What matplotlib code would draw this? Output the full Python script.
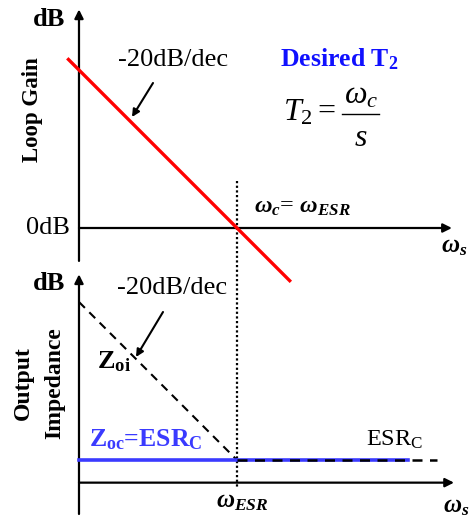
import matplotlib
matplotlib.use("Agg")
import matplotlib.pyplot as plt
from matplotlib.lines import Line2D
import numpy as np

plt.rcParams['font.family'] = ['Liberation Serif', 'DejaVu Serif']
plt.rcParams['mathtext.fontset'] = 'custom'
plt.rcParams['mathtext.rm'] = 'Liberation Serif'
plt.rcParams['mathtext.it'] = 'Liberation Serif:italic'
plt.rcParams['mathtext.bf'] = 'Liberation Serif:bold'
plt.rcParams['mathtext.bfit'] = 'Liberation Serif:bold:italic'

# ---- data (x = log10(w/w_c) in decades, y in dB) ----
loop_gain_dec = [-3.2, 1.0]
loop_gain_db = [64.0, -20.0]          # -20 dB/dec through 0 dB at w_c
zoi_dec = [-3.0, 0.0]
zoi_db = [60.0, 0.0]                  # -20 dB/dec down to ESR level
zoc_dec = [-3.0, 3.25]
zoc_db = [0.0, 0.0]                   # Zoc = ESR_C
esr_dec = [0.0, 3.8]
esr_db = [0.0, 0.0]
crossover_dec = 0.0

W, H = 477, 517
fig = plt.figure(figsize=(W / 100, H / 100), dpi=100)

PX_DEC = 52.67
X0 = 237
DB_PX = PX_DEC / 20.0

def xlim():
    return ((0 - X0) / PX_DEC, (W - X0) / PX_DEC)

# Top axes (loop gain), 0 dB at y_img=228
ax1 = fig.add_axes([0, 0, 1, 1])
ax1.set_xlim(*xlim())
ax1.set_ylim((228 - H) / DB_PX, 228 / DB_PX)
ax1.axis('off')
ax1.patch.set_alpha(0)

# Bottom axes (impedance), ESR level at y_img=460
ax2 = fig.add_axes([0, 0, 1, 1])
ax2.set_xlim(*xlim())
ax2.set_ylim((460 - H) / DB_PX, 460 / DB_PX)
ax2.axis('off')
ax2.patch.set_alpha(0)

ak = dict(arrowstyle='-|>', lw=1.6, color='black', mutation_scale=13, shrinkA=0, shrinkB=0)

# top axes lines
ax1.annotate('', xy=(-3.0, 83), xytext=(-3.0, -12.5), arrowprops=ak)
ax1.annotate('', xy=(4.08, 0), xytext=(-3.0, 0), arrowprops=ak)
# bottom axes lines
ax2.annotate('', xy=(-3.0, 70.5), xytext=(-3.0, -20.5), arrowprops=ak)
ax2.annotate('', xy=(4.12, -8.6), xytext=(-3.0, -8.6), arrowprops=ak)

# dotted crossover line across both panels (drawn in top axes units)
ax1.plot([crossover_dec, crossover_dec], [18.0, (228 - 488) / DB_PX],
         color='black', lw=1.6, ls=(0, (1, 1.1)), zorder=2)

# curves
ax1.plot(loop_gain_dec, loop_gain_db, color='#ff0000', lw=2.4, zorder=4)
ax2.plot(zoi_dec, zoi_db, color='black', lw=1.5, ls=(0, (4, 3)), zorder=3)
ax2.plot(zoc_dec, zoc_db, color='#3a3aff', lw=2.6, zorder=3)
ax2.plot(esr_dec, esr_db, color='black', lw=1.8, ls=(0, (4, 3)), zorder=4)

def ft(x, y, s, **kw):
    fig.text(x / W, 1 - y / H, s, **kw)

ft(49, 20, 'dB', fontsize=19, fontweight='bold', ha='center', va='center')
ft(33, 110, 'Loop Gain', fontsize=16.5, fontweight='bold', rotation=90, ha='center', va='center')
ft(173, 60, '-20dB/dec', fontsize=19, ha='center', va='center')
ft(48, 228, '0dB', fontsize=19, ha='center', va='center')
ft(339, 59, r'Desired T$_\mathbf{2}$', fontsize=18.5, fontweight='bold', color='#1010ff', ha='center', va='center')

# T2 = wc / s (built from pieces)
ft(309, 113, r'$T_2=$', fontsize=23, ha='center', va='center')
ft(361, 96, r'$\omega_c$', fontsize=23, ha='center', va='center')
ft(361, 138, r'$s$', fontsize=23, ha='center', va='center')
fig.add_artist(Line2D([342 / W, 379 / W], [1 - 114 / H, 1 - 114 / H], color='black', lw=1.0,
                      transform=fig.transFigure))

ft(302, 208, r'$\mathbfit{\omega_c}$= $\mathbfit{\omega_{ESR}}$', fontsize=17.5, ha='center', va='center')
ft(454, 247, r'$\mathbfit{\omega_s}$', fontsize=18, ha='center', va='center')

ft(49, 284, 'dB', fontsize=19, fontweight='bold', ha='center', va='center')
ft(172, 288, '-20dB/dec', fontsize=19, ha='center', va='center')
ft(23, 383, 'Output', fontsize=17, fontweight='bold', rotation=90, ha='center', va='center')
ft(55, 383, 'Impedance', fontsize=17, fontweight='bold', rotation=90, ha='center', va='center')
ft(114, 362, r'Z$_\mathbf{oi}$', fontsize=19, fontweight='bold', ha='center', va='center')
ft(146, 440, r'Z$_\mathbf{oc}$=ESR$_\mathbf{C}$', fontsize=18.5, fontweight='bold', color='#3a3aff', ha='center', va='center')
ft(395, 440, r'ESR$_\mathrm{C}$', fontsize=17.5, ha='center', va='center')
ft(242, 502, r'$\mathbfit{\omega_{ESR}}$', fontsize=18, ha='center', va='center')
ft(456, 507, r'$\mathbfit{\omega_s}$', fontsize=18, ha='center', va='center')

# pointer arrows
pa = dict(arrowstyle='-|>', lw=1.5, color='black', mutation_scale=11, shrinkA=0, shrinkB=0)
fig.add_artist(matplotlib.patches.FancyArrowPatch((153 / W, 1 - 83 / H), (132 / W, 1 - 117 / H),
                                                  transform=fig.transFigure, **pa))
fig.add_artist(matplotlib.patches.FancyArrowPatch((163 / W, 1 - 312 / H), (136 / W, 1 - 357 / H),
                                                  transform=fig.transFigure, **pa))

fig.savefig('out.png', dpi=100, facecolor='white')
